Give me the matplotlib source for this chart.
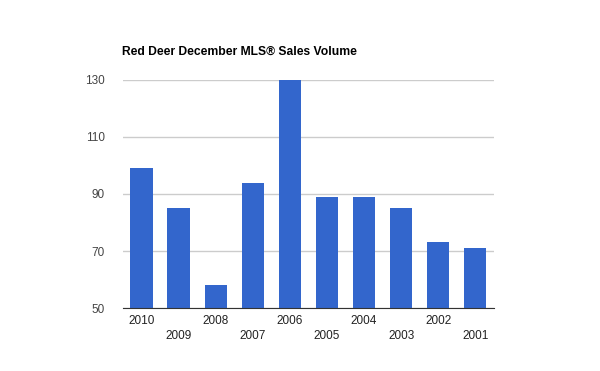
import matplotlib
matplotlib.use("Agg")
import matplotlib.pyplot as plt
import numpy as np

years = ["2010", "2009", "2008", "2007", "2006", "2005", "2004", "2003", "2002", "2001"]
sales = [99, 85, 58, 94, 130, 89, 89, 85, 73, 71]
y_ticks = [50, 70, 90, 110, 130]

plt.rcParams["font.family"] = ["Liberation Sans", "DejaVu Sans"]

fig = plt.figure(figsize=(6, 3.71), dpi=100)
ax = fig.add_axes([0.205, 0.1698, 0.618, 0.6146])

x = np.arange(len(years))
ax.bar(x, sales, width=0.6, color="#3366cc", zorder=2)

ax.set_xlim(-0.5, len(years) - 0.5)
ax.set_ylim(50, 130)
ax.set_yticks(y_ticks)
ax.set_yticklabels([str(v) for v in y_ticks], fontsize=8.5, color="#444444")
ax.yaxis.grid(True, color="#cccccc", linewidth=1, zorder=0)
ax.tick_params(axis="y", length=0, pad=13)
ax.set_xticks([])

# year labels alternate between two rows
for i, yr in enumerate(years):
    off = -9.6 if i % 2 == 0 else -20.4
    ax.annotate(yr, xy=(i, 50), xytext=(0, off), textcoords="offset points",
                ha="center", va="center", fontsize=8.5, color="#222222",
                annotation_clip=False)

for side in ["top", "right", "left"]:
    ax.spines[side].set_visible(False)
ax.spines["bottom"].set_color("#333333")
ax.spines["bottom"].set_zorder(3)

fig.text(122 / 600, 1 - 52 / 371, "Red Deer December MLS® Sales Volume",
         fontsize=8.7, fontweight="bold", ha="left", va="center", color="#000000")

fig.savefig("out.png", dpi=100)
